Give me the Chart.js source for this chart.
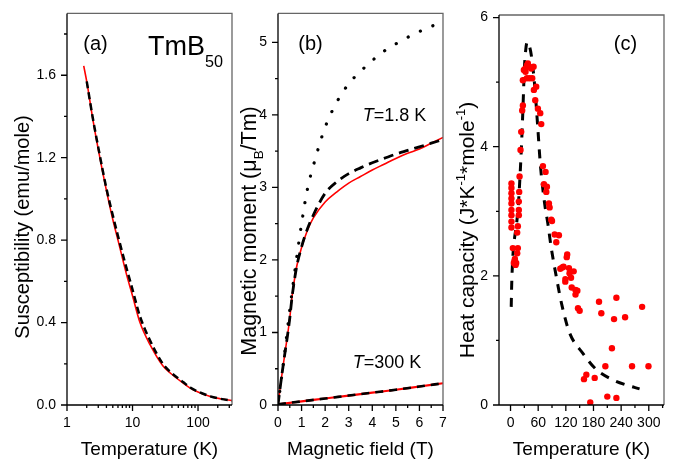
<!DOCTYPE html>
<html>
<head>
<meta charset="utf-8">
<script src="https://cdn.jsdelivr.net/npm/chart.js@4.4.0/dist/chart.umd.min.js"></script>
<style>
  body { margin: 0; background: #fff; width: 681px; height: 464px; overflow: hidden; position: relative; }
  canvas { position: absolute; top: 0; }
</style>
</head>
<body>
<canvas id="chartA" width="240" height="464" style="left:0px"></canvas>
<canvas id="chartB" width="220" height="464" style="left:232px"></canvas>
<canvas id="chartC" width="229" height="464" style="left:452px"></canvas>
<script>
const FONT = '"Liberation Sans", Arial, Helvetica, sans-serif';
Chart.defaults.font.family = FONT;
Chart.defaults.color = '#000';

// (a) susceptibility vs temperature
const suscT = [1.8, 2, 2.5, 3, 4, 5, 6, 8, 10, 13, 18.7, 29, 38, 60, 76, 100, 154, 220, 330];
const suscFit = [1.645, 1.57, 1.38, 1.24, 1.04, 0.9, 0.8, 0.64, 0.53, 0.4, 0.29, 0.19, 0.154, 0.105, 0.082, 0.063, 0.041, 0.03, 0.021];
const suscCalcT = [2, 2.5, 3, 4, 5, 6, 8, 10, 13, 18.7, 29, 38, 60, 76, 100, 154, 220, 330];
const suscCalc = [1.57, 1.385, 1.25, 1.05, 0.92, 0.82, 0.67, 0.56, 0.43, 0.31, 0.2, 0.16, 0.11, 0.085, 0.065, 0.042, 0.03, 0.021];
const suscXTicks = [1, 10, 100];
const suscXMinor = [2, 3, 4, 5, 6, 7, 8, 9, 20, 30, 40, 50, 60, 70, 80, 90, 200, 300];
const suscYTicks = [0, 0.4, 0.8, 1.2, 1.6];
const suscYMinor = [0.2, 0.6, 1.0, 1.4, 1.8];

// (b) magnetic moment vs field
const field18 = [0, 0.1, 0.2, 0.3, 0.4, 0.5, 0.6, 0.8, 1, 1.25, 1.5, 2, 2.5, 3, 3.5, 4, 4.5, 5, 5.5, 6, 6.5, 7];
const moment18 = [0, 0.26, 0.5, 0.73, 0.95, 1.2, 1.5, 1.92, 2.17, 2.41, 2.58, 2.8, 2.94, 3.06, 3.15, 3.24, 3.32, 3.4, 3.47, 3.53, 3.61, 3.69];
const moment18Calc = [0, 0.26, 0.5, 0.73, 0.95, 1.2, 1.5, 1.92, 2.18, 2.43, 2.62, 2.92, 3.08, 3.19, 3.27, 3.34, 3.4, 3.46, 3.51, 3.56, 3.61, 3.66];
const fieldFree = [0, 0.25, 0.5, 0.75, 1, 1.25, 1.5, 2, 2.5, 3, 3.5, 4, 4.5, 5, 5.5, 6, 6.5, 6.7];
const momentFree = [0, 0.63, 1.31, 1.93, 2.5, 2.98, 3.3, 3.83, 4.18, 4.43, 4.6, 4.75, 4.88, 4.98, 5.07, 5.15, 5.22, 5.25];
const field300 = [0, 1, 2, 3, 4, 5, 6, 7];
const moment300 = [0.01, 0.05, 0.09, 0.13, 0.17, 0.21, 0.255, 0.3];
const momXTicks = [0, 1, 2, 3, 4, 5, 6, 7];
const momXMinor = [0.5, 1.5, 2.5, 3.5, 4.5, 5.5, 6.5];
const momYTicks = [0, 1, 2, 3, 4, 5];
const momYMinor = [0.5, 1.5, 2.5, 3.5, 4.5];

// (c) heat capacity vs temperature
const hcT = [2, 2, 2, 2, 2, 2, 2, 2, 2,
  5, 8.7, 7.2, 12.3, 10.9, 9.5,
  15.9, 14.5, 14.5, 15.9, 18, 18, 18, 18.8,
  19.6, 21.7, 23.2, 25.3, 26.8,
  26.8, 29, 31.9, 35.5, 37.7, 32.6, 35.5, 41.3, 39.9, 44.9, 50, 47.1,
  50.7, 55.8, 53.6, 59.4, 64.5, 66.7,
  70.3, 76, 72.5, 79, 77.6,
  83.3, 84.8, 88.4, 90,
  95.7, 105, 99.3,
  123, 122, 108, 112.3, 115, 119, 118.8, 126.8, 128, 137, 131.3, 132.8, 141, 145, 141, 146.4, 150,
  192, 197, 229.7, 224.6, 248.6, 285.5,
  220, 205.8, 263.7, 299.3,
  159.4, 164.5, 182.6,
  173, 210, 229.7];
const hcC = [3.43, 3.36, 3.28, 3.2, 3.12, 3.02, 2.94, 2.84, 2.75,
  2.43, 2.23, 2.2, 2.2, 2.17, 2.26,
  2.43, 2.35, 2.67, 2.77, 2.94, 3.02, 3.15, 3.3,
  3.54, 3.95, 4.23, 4.56, 4.64,
  5.03, 5.19, 5.21, 5.26, 5.29, 5.16, 5.06, 5.06, 5.24, 5.21, 5.24, 5.06,
  4.88, 4.93, 4.72, 4.59, 4.52, 4.35,
  3.7, 3.61, 3.42, 3.38, 3.3,
  3.12, 3.06, 2.87, 2.85,
  2.64, 2.63, 2.52,
  2.33, 2.29, 2.11, 2.13, 2.14, 1.95, 1.91, 2.12, 2.04, 2.07, 1.97, 1.82, 1.78, 1.77, 1.71, 1.5, 1.46,
  1.6, 1.42, 1.66, 1.33, 1.36, 1.52,
  0.88, 0.6, 0.6, 0.6,
  0.4, 0.47, 0.42,
  0.04, 0.13, 0.11];
const hcFitT = [1.5, 2.5, 4, 6, 9, 13, 17, 21, 24, 27, 30, 33, 36, 40, 45, 52, 59, 65, 74, 81, 88, 99, 112, 128, 157, 186, 222, 251, 280];
const hcFit = [1.52, 1.85, 2.15, 2.4, 2.6, 2.8, 3.1, 3.6, 4.05, 4.6, 5.2, 5.5, 5.62, 5.58, 5.42, 4.98, 4.31, 3.7, 3.12, 2.81, 2.45, 2.0, 1.53, 1.12, 0.8, 0.55, 0.39, 0.31, 0.25];
const hcXTicks = [0, 60, 120, 180, 240, 300];
const hcXMinor = [30, 90, 150, 210, 270, 330];
const hcYTicks = [0, 2, 4, 6];
const hcYMinor = [1, 3, 5];

const pts = (xs, ys) => xs.map((x, i) => ({x: x, y: ys[i]}));

function curve(xs, ys, color, width, dash, order, cap) {
    return {
        data: pts(xs, ys),
        borderColor: color,
        borderWidth: width,
        borderDash: dash || [],
        borderCapStyle: cap || 'butt',
        pointRadius: 0,
        fill: false,
        cubicInterpolationMode: 'monotone',
        order: order
    };
}

// border box plus major / minor tick marks, drawn from the chart scales
const ticksFrame = {
    id: 'ticksFrame',
    afterDatasetsDraw(chart, args, o) {
        const {ctx, chartArea: a} = chart;
        const xs = chart.scales.x, ys = chart.scales.y;
        ctx.save();
        ctx.lineWidth = 1.3;
        ctx.strokeStyle = '#666';
        ctx.beginPath();
        ctx.moveTo(a.left, a.top);
        ctx.lineTo(a.right, a.top);
        ctx.lineTo(a.right, a.bottom);
        ctx.stroke();
        ctx.strokeStyle = '#000';
        ctx.beginPath();
        ctx.moveTo(a.left, a.top);
        ctx.lineTo(a.left, a.bottom);
        ctx.lineTo(a.right, a.bottom);
        const xMarks = (vals, len) => vals.forEach(v => {
            const p = xs.getPixelForValue(v);
            if (p < a.left - 0.5 || p > a.right + 0.5) return;
            ctx.moveTo(p, a.bottom);
            ctx.lineTo(p, a.bottom + len);
        });
        const yMarks = (vals, len) => vals.forEach(v => {
            const p = ys.getPixelForValue(v);
            if (p < a.top - 0.5 || p > a.bottom + 0.5) return;
            ctx.moveTo(a.left, p);
            ctx.lineTo(a.left - len, p);
        });
        xMarks(xs.ticks.map(t => t.value), 6);
        xMarks(o.xMinor || [], 3);
        yMarks(ys.ticks.map(t => t.value), 6);
        yMarks(o.yMinor || [], 3);
        ctx.stroke();
        ctx.restore();
    }
};

function drawRich(ctx, item) {
    const size = item.size;
    const small = item.small || 0.62;
    const font = (sz, it) => (it ? 'italic ' : '') + sz + 'px ' + FONT;
    ctx.save();
    ctx.translate(item.x, item.y);
    if (item.rot) ctx.rotate(item.rot);
    ctx.fillStyle = '#000';
    ctx.textBaseline = 'alphabetic';
    ctx.textAlign = 'left';
    let total = 0;
    const parts = item.segs.map(g => {
        const sz = (g.sub || g.sup) ? size * small : size;
        ctx.font = font(sz, g.it);
        const w = ctx.measureText(g.t).width;
        total += w;
        return {g: g, sz: sz, w: w};
    });
    let cx = item.align === 'left' ? 0 : -total / 2;
    const base = size * 0.36;
    parts.forEach(p => {
        ctx.font = font(p.sz, p.g.it);
        let dy = base;
        if (p.g.sub) dy += size * (item.subDy || 0.3);
        if (p.g.sup) dy -= size * 0.42;
        ctx.fillText(p.g.t, cx, dy);
        cx += p.w;
    });
    ctx.restore();
}

const notes = {
    id: 'notes',
    afterDraw(chart, args, o) {
        (o.items || []).forEach(item => drawRich(chart.ctx, item));
    }
};

function axis(type, min, max, ticks, fmt, pad, fit, title) {
    return {
        type: type,
        min: min,
        max: max,
        bounds: 'data',
        grid: {display: false, drawTicks: true, tickLength: 6},
        border: {display: false},
        ticks: {autoSkip: false, maxRotation: 0, padding: pad, font: {size: 14}, color: '#000', callback: fmt},
        afterBuildTicks: s => { s.ticks = ticks.map(v => ({value: v})); },
        afterFit: s => {
            if (fit.w) s.width = fit.w;
            if (fit.h) s.height = fit.h;
        },
        title: title
            ? {display: true, text: title, font: {size: 19}, color: '#000', padding: {top: 0, bottom: 3}}
            : {display: false}
    };
}

function panel(id, cfg) {
    return new Chart(document.getElementById(id), {
        type: 'line',
        data: {datasets: cfg.datasets},
        options: {
            responsive: false,
            animation: false,
            events: [],
            layout: {padding: cfg.pad},
            plugins: {
                legend: {display: false},
                tooltip: {enabled: false},
                ticksFrame: {xMinor: cfg.xMinor, yMinor: cfg.yMinor},
                notes: {items: cfg.notes}
            },
            scales: {x: cfg.x, y: cfg.y}
        },
        plugins: [ticksFrame, notes]
    });
}

const UP = -Math.PI / 2;

panel('chartA', {
    pad: {left: 0, right: 8, top: 12, bottom: 0},
    datasets: [
        curve(suscCalcT, suscCalc, '#000', 2.5, [7, 4], 0),
        curve(suscT, suscFit, '#ff0000', 1.6, null, 1)
    ],
    x: axis('logarithmic', 1, 330, suscXTicks, v => String(v), 4, {h: 59}, 'Temperature (K)'),
    y: axis('linear', 0, 1.9, suscYTicks, v => v.toFixed(1), 5, {w: 67}),
    xMinor: suscXMinor,
    yMinor: suscYMinor,
    notes: [
        {segs: [{t: 'Susceptibility (emu/mole)'}], x: 22, y: 227, size: 20, rot: UP},
        {segs: [{t: '(a)'}], x: 95.5, y: 43, size: 20},
        {segs: [{t: 'TmB'}, {t: '50', sub: true}], x: 148, y: 45.5, size: 27, align: 'left', small: 0.6, subDy: 0.45}
    ]
});

panel('chartB', {
    pad: {left: 0, right: 9, top: 12, bottom: 0},
    datasets: [
        curve(field18, moment18Calc, '#000', 2.8, [10, 6], 0),
        curve(field300, moment300, '#000', 2.6, [8, 6], 0),
        curve(fieldFree, momentFree, '#000', 3.2, [0.1, 13.5], 0, 'round'),
        curve(field18, moment18, '#ff0000', 1.6, null, 1),
        curve(field300, moment300, '#ff0000', 2.2, null, 1)
    ],
    x: axis('linear', 0, 7, momXTicks, v => String(v), 4, {h: 59}, 'Magnetic field (T)'),
    y: axis('linear', 0, 5.4, momYTicks, v => String(v), 5, {w: 46}),
    xMinor: momXMinor,
    yMinor: momYMinor,
    notes: [
        {segs: [{t: 'Magnetic moment (\u03bc'}, {t: 'B', sub: true}, {t: '/Tm)'}], x: 16.5, y: 231, size: 21.5, rot: UP},
        {segs: [{t: '(b)'}], x: 78.5, y: 42.5, size: 20},
        {segs: [{t: 'T', it: true}, {t: '=1.8 K'}], x: 162.5, y: 115, size: 18},
        {segs: [{t: 'T', it: true}, {t: '=300 K'}], x: 155, y: 362, size: 18}
    ]
});

panel('chartC', {
    pad: {left: 0, right: 17, top: 15, bottom: 0},
    datasets: [
        {
            data: pts(hcT, hcC),
            showLine: false,
            pointRadius: 3.2,
            pointBackgroundColor: '#ff0000',
            pointBorderWidth: 0,
            order: 0
        },
        curve(hcFitT, hcFit, '#000', 3, [9, 8], 1)
    ],
    x: axis('linear', -25, 333, hcXTicks, v => String(v), 4, {h: 59}, 'Temperature (K)'),
    y: axis('linear', 0, 6.04, hcYTicks, v => String(v), 5, {w: 47}),
    xMinor: hcXMinor,
    yMinor: hcYMinor,
    notes: [
        {segs: [{t: 'Heat capacity (J*K'}, {t: '-1', sup: true}, {t: '*mole'}, {t: '-1', sup: true}, {t: ')'}], x: 14, y: 230, size: 21, rot: UP},
        {segs: [{t: '(c)'}], x: 173.5, y: 42.5, size: 20}
    ]
});
</script>
</body>
</html>
